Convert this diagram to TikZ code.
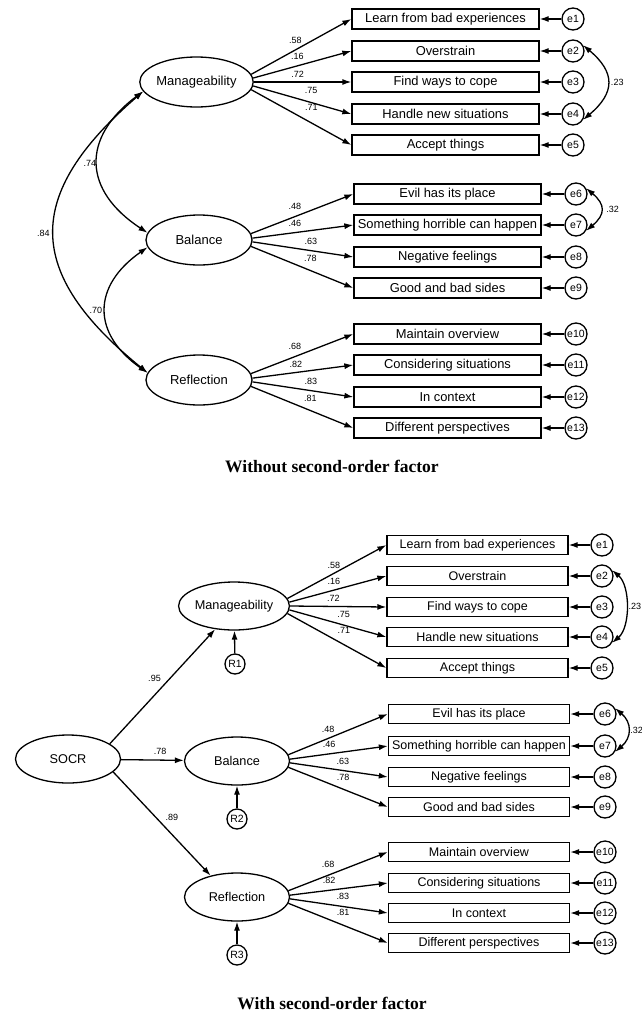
\documentclass[tikz,border=0pt]{standalone}
\usepackage{fontspec}
\setmainfont{Liberation Sans}
\newfontfamily\capfont{Liberation Serif}
\usetikzlibrary{arrows.meta,shapes.geometric}

\begin{document}
\begin{tikzpicture}[x=1pt,y=-1pt,line width=1.3pt,
  >={Latex[length=9pt,width=6pt]},
  latent/.style={ellipse,draw,minimum width=106pt,minimum height=50pt,inner sep=0pt,font=\fontsize{13}{15}\selectfont},
  latent2/.style={latent,minimum width=105pt,minimum height=48pt,font=\fontsize{12.7}{15}\selectfont},
  item/.style={draw,minimum width=187pt,minimum height=20pt,inner sep=0pt,font=\fontsize{12.9}{15}\selectfont},
  item2/.style={item,minimum width=181pt,minimum height=19pt,font=\fontsize{12.5}{15}\selectfont},
  err/.style={circle,draw,minimum size=22pt,inner sep=0pt,font=\fontsize{10.5}{12}\selectfont},
  res/.style={err,minimum size=20pt},
  num/.style={inner sep=0pt,font=\fontsize{9}{10}\selectfont},
  caption/.style={font=\capfont\bfseries\fontsize{17.5}{20}\selectfont}]
\useasboundingbox (0,0) rectangle (642,1012);

% without second-order factor
\node[latent] (man) at (196.5,82) {Manageability};
\node[latent] (bal) at (199,240) {Balance};
\node[latent] (ref) at (199,380) {Reflection};

\node[item] (i1) at (445.5,19) {Learn from bad experiences};
\node[item] (i2) at (445.5,51) {Overstrain};
\node[item] (i3) at (445.5,82) {Find ways to cope};
\node[item] (i4) at (445.5,114) {Handle new situations};
\node[item] (i5) at (445.5,145) {Accept things};
\node[item] (i6) at (447.5,194) {Evil has its place};
\node[item] (i7) at (447.5,225) {Something horrible can happen};
\node[item] (i8) at (447.5,257) {Negative feelings};
\node[item] (i9) at (447.5,288) {Good and bad sides};
\node[item] (i10) at (447.5,334) {Maintain overview};
\node[item] (i11) at (447.5,365) {Considering situations};
\node[item] (i12) at (447.5,397) {In context};
\node[item] (i13) at (447.5,428) {Different perspectives};

\node[err] (e1) at (573,19) {e1};
\node[err] (e2) at (573,51) {e2};
\node[err] (e3) at (573,82) {e3};
\node[err] (e4) at (573,114) {e4};
\node[err] (e5) at (573,145) {e5};
\node[err] (e6) at (576,194) {e6};
\node[err] (e7) at (576,225) {e7};
\node[err] (e8) at (576,257) {e8};
\node[err] (e9) at (576,288) {e9};
\node[err] (e10) at (576,334) {e10};
\node[err] (e11) at (576,365) {e11};
\node[err] (e12) at (576,397) {e12};
\node[err] (e13) at (576,428) {e13};

\draw[->] (e1) -- (i1);
\draw[->] (e2) -- (i2);
\draw[->] (e3) -- (i3);
\draw[->] (e4) -- (i4);
\draw[->] (e5) -- (i5);
\draw[->] (e6) -- (i6);
\draw[->] (e7) -- (i7);
\draw[->] (e8) -- (i8);
\draw[->] (e9) -- (i9);
\draw[->] (e10) -- (i10);
\draw[->] (e11) -- (i11);
\draw[->] (e12) -- (i12);
\draw[->] (e13) -- (i13);

\draw[->] (man.8) -- node[num,pos=.44,yshift=10pt] {.58} (i1.west);
\draw[->] (man.4) -- node[num,pos=.45,yshift=9pt] {.16} (i2.west);
\draw[->] (man.0) -- node[num,pos=.45,yshift=8pt] {.72} (i3.west);
\draw[->] (man.-4) -- node[num,pos=.59,yshift=12pt] {.75} (i4.west);
\draw[->] (man.-8) -- node[num,pos=.6,yshift=15pt] {.71} (i5.west);
\draw[->] (bal.7) -- node[num,pos=.43,yshift=10pt] {.48} (i6.west);
\draw[->] (bal.2.5) -- node[num,pos=.42,yshift=9.5pt] {.46} (i7.west);
\draw[->] (bal.-2.5) -- node[num,pos=.58,yshift=9.5pt] {.63} (i8.west);
\draw[->] (bal.-7) -- node[num,pos=.58,yshift=12pt] {.78} (i9.west);
\draw[->] (ref.7) -- node[num,pos=.43,yshift=10pt] {.68} (i10.west);
\draw[->] (ref.2.5) -- node[num,pos=.43,yshift=8.5pt] {.82} (i11.west);
\draw[->] (ref.-2.5) -- node[num,pos=.58,yshift=9.5pt] {.83} (i12.west);
\draw[->] (ref.-7) -- node[num,pos=.58,yshift=12pt] {.81} (i13.west);

\draw[<->] (e2.30) to[bend left=50,looseness=1.45] node[num,right=3pt] {.23} (e4.-30);
\draw[<->] (e6.30) to[bend left=50,looseness=1.53] node[num,right=5pt] {.32} (e7.-30);

\draw[<->] (man.190) to[bend right=55,looseness=1.4] node[num,left=1pt] {.74} (bal.172);
\draw[<->] (man.190) to[bend right=50,looseness=1.44] node[num,left=4pt] {.84} (ref.172);
\draw[<->] (bal.188) to[bend right=55,looseness=1.39] node[num,left=3pt] {.70} (ref.172);

\node[caption] (capa) at (332,466) {Without second-order factor};

% with second-order factor
\node[latent2] (socr) at (68,759) {SOCR};
\node[latent2] (man2) at (234,606) {Manageability};
\node[latent2] (bal2) at (237,761) {Balance};
\node[latent2] (ref2) at (237,897) {Reflection};

\node[res] (r1) at (235,664) {R1};
\node[res] (r2) at (237,819) {R2};
\node[res] (r3) at (237,955) {R3};
\draw[->] (r1) -- (man2);
\draw[->] (r2) -- (bal2);
\draw[->] (r3) -- (ref2);

\draw[->] (socr.20) -- node[num,xshift=-8pt,yshift=8pt] {.95} (man2.231);
\draw[->] (socr) -- node[num,pos=.62,yshift=9pt] {.78} (bal2);
\draw[->] (socr.-16) -- node[num,xshift=10pt,yshift=6pt] {.89} (ref2.141);

\node[item2] (j1) at (477.5,545) {Learn from bad experiences};
\node[item2] (j2) at (477.5,576) {Overstrain};
\node[item2] (j3) at (477.5,607) {Find ways to cope};
\node[item2] (j4) at (477.5,637) {Handle new situations};
\node[item2] (j5) at (477.5,668) {Accept things};
\node[item2] (j6) at (479,714) {Evil has its place};
\node[item2] (j7) at (479,746) {Something horrible can happen};
\node[item2] (j8) at (479,777) {Negative feelings};
\node[item2] (j9) at (479,807) {Good and bad sides};
\node[item2] (j10) at (479,852) {Maintain overview};
\node[item2] (j11) at (479,883) {Considering situations};
\node[item2] (j12) at (479,913) {In context};
\node[item2] (j13) at (479,943) {Different perspectives};

\node[err] (d1) at (602,545) {e1};
\node[err] (d2) at (602,576) {e2};
\node[err] (d3) at (602,607) {e3};
\node[err] (d4) at (602,637) {e4};
\node[err] (d5) at (602,668) {e5};
\node[err] (d6) at (605,714) {e6};
\node[err] (d7) at (605,746) {e7};
\node[err] (d8) at (605,777) {e8};
\node[err] (d9) at (605,807) {e9};
\node[err] (d10) at (605,852) {e10};
\node[err] (d11) at (605,883) {e11};
\node[err] (d12) at (605,913) {e12};
\node[err] (d13) at (605,943) {e13};

\draw[->] (d1) -- (j1);
\draw[->] (d2) -- (j2);
\draw[->] (d3) -- (j3);
\draw[->] (d4) -- (j4);
\draw[->] (d5) -- (j5);
\draw[->] (d6) -- (j6);
\draw[->] (d7) -- (j7);
\draw[->] (d8) -- (j8);
\draw[->] (d9) -- (j9);
\draw[->] (d10) -- (j10);
\draw[->] (d11) -- (j11);
\draw[->] (d12) -- (j12);
\draw[->] (d13) -- (j13);

\draw[->] (man2.8) -- node[num,pos=.47,yshift=8pt] {.58} (j1.west);
\draw[->] (man2.4) -- node[num,pos=.46,yshift=8.5pt] {.16} (j2.west);
\draw[->] (man2.0) -- node[num,pos=.45,yshift=8.5pt] {.72} (j3.west);
\draw[->] (man2.-4) -- node[num,pos=.56,yshift=11pt] {.75} (j4.west);
\draw[->] (man2.-8) -- node[num,pos=.57,yshift=14pt] {.71} (j5.west);
\draw[->] (bal2.7) -- node[num,pos=.4,yshift=9pt] {.48} (j6.west);
\draw[->] (bal2.2.5) -- node[num,pos=.4,yshift=9pt] {.46} (j7.west);
\draw[->] (bal2.-2.5) -- node[num,pos=.54,yshift=9pt] {.63} (j8.west);
\draw[->] (bal2.-7) -- node[num,pos=.55,yshift=12pt] {.78} (j9.west);
\draw[->] (ref2.7) -- node[num,pos=.4,yshift=11pt] {.68} (j10.west);
\draw[->] (ref2.2.5) -- node[num,pos=.4,yshift=10pt] {.82} (j11.west);
\draw[->] (ref2.-2.5) -- node[num,pos=.54,yshift=10pt] {.83} (j12.west);
\draw[->] (ref2.-7) -- node[num,pos=.55,yshift=13pt] {.81} (j13.west);

\draw[<->] (d2.30) to[bend left=50,looseness=.85] node[num,right=2pt] {.23} (d4.-30);
\draw[<->] (d6.30) to[bend left=50,looseness=1.3] node[num,right=2pt] {.32} (d7.-30);

\node[caption] (capb) at (332,1003) {With second-order factor};
\end{tikzpicture}
\end{document}
